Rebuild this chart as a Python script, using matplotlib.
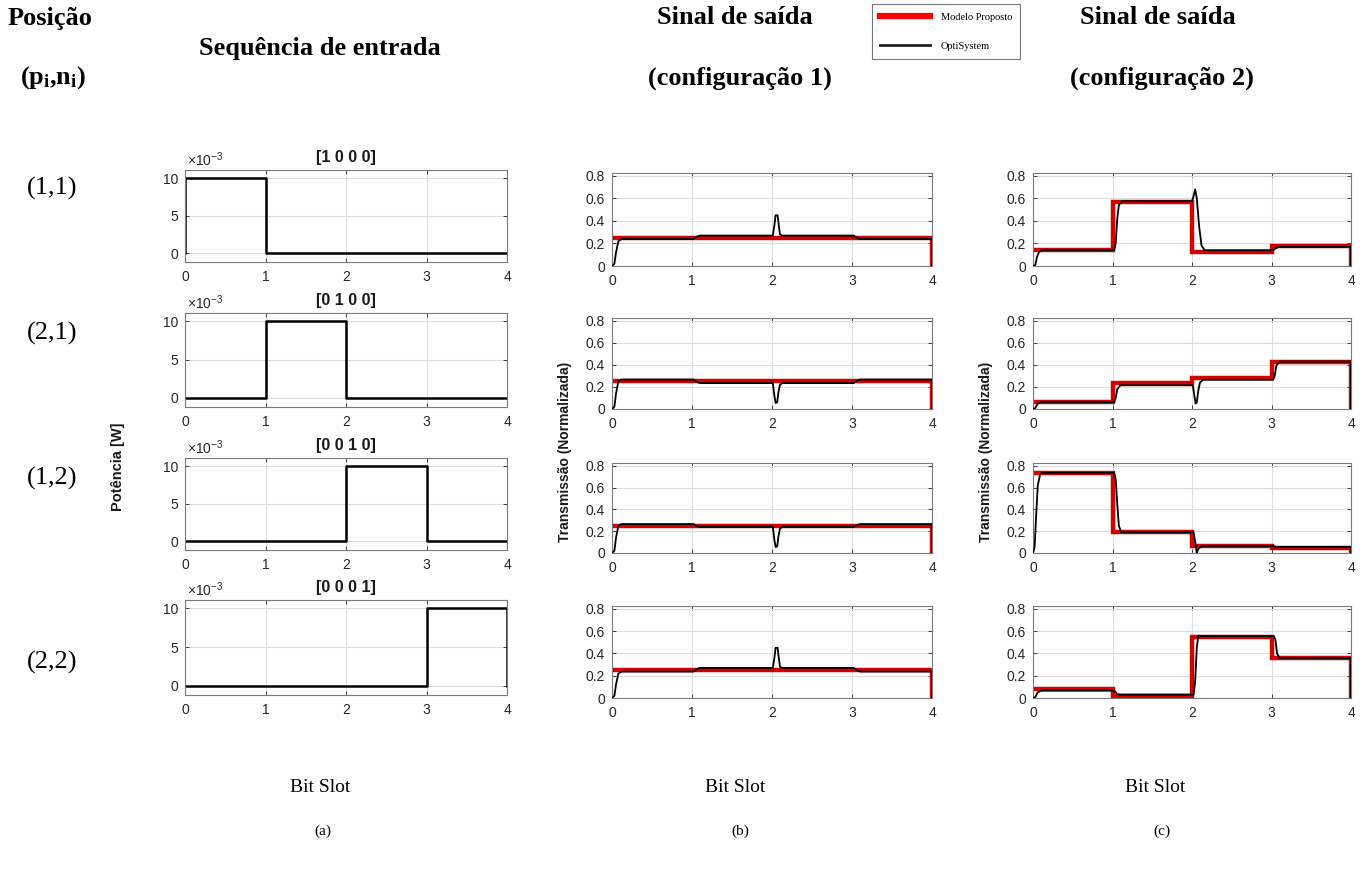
import matplotlib
matplotlib.use("Agg")
import matplotlib.pyplot as plt
from matplotlib.lines import Line2D
from matplotlib.ticker import FuncFormatter

plt.rcParams["font.family"] = ["Liberation Sans", "DejaVu Sans"]
plt.rcParams["mathtext.fontset"] = "custom"
plt.rcParams["mathtext.rm"] = "Liberation Sans"
plt.rcParams["mathtext.sf"] = "Liberation Sans"
plt.rcParams["mathtext.it"] = "Liberation Sans:italic"
plt.rcParams["mathtext.bf"] = "Liberation Serif:bold"

# ---- data ----
positions = ["(1,1)", "(2,1)", "(1,2)", "(2,2)"]
seq_titles = ["[1 0 0 0]", "[0 1 0 0]", "[0 0 1 0]", "[0 0 0 1]"]

# input power per bit slot [W]
input_power = [
    [10e-3, 0, 0, 0],
    [0, 10e-3, 0, 0],
    [0, 0, 10e-3, 0],
    [0, 0, 0, 10e-3],
]

# proposed model, normalized transmission per bit slot
model_cfg1 = [
    [0.25, 0.25, 0.25, 0.25],
    [0.25, 0.25, 0.25, 0.25],
    [0.25, 0.25, 0.25, 0.25],
    [0.25, 0.25, 0.25, 0.25],
]
model_cfg2 = [
    [0.14, 0.565, 0.12, 0.18],
    [0.062, 0.24, 0.277, 0.425],
    [0.73, 0.19, 0.065, 0.045],
    [0.08, 0.021, 0.545, 0.362],
]

# OptiSystem traces (bit slot, transmission)
opti_cfg1 = [
    [(0, 0), (0.03, 0.02), (0.05, 0.12), (0.08, 0.22), (0.12, 0.24), (1.02, 0.24),
     (1.06, 0.26), (1.1, 0.27), (2.01, 0.27), (2.03, 0.36), (2.045, 0.45), (2.07, 0.45),
     (2.085, 0.36), (2.1, 0.28), (2.13, 0.27), (3.02, 0.27), (3.06, 0.25), (3.1, 0.24),
     (4.0, 0.24), (4.0, 0)],
    [(0, 0), (0.03, 0.02), (0.05, 0.14), (0.08, 0.25), (0.12, 0.267), (1.02, 0.267),
     (1.06, 0.245), (1.1, 0.235), (2.01, 0.235), (2.03, 0.12), (2.045, 0.055), (2.065, 0.06),
     (2.08, 0.15), (2.1, 0.22), (2.13, 0.235), (3.02, 0.235), (3.06, 0.255), (3.1, 0.267),
     (4.0, 0.267), (4.0, 0)],
    [(0, 0), (0.03, 0.02), (0.05, 0.14), (0.08, 0.25), (0.12, 0.265), (1.02, 0.265),
     (1.06, 0.245), (1.1, 0.24), (2.01, 0.24), (2.03, 0.12), (2.045, 0.055), (2.065, 0.06),
     (2.08, 0.15), (2.1, 0.225), (2.13, 0.24), (3.02, 0.24), (3.06, 0.255), (3.1, 0.265),
     (4.0, 0.265), (4.0, 0)],
    [(0, 0), (0.03, 0.02), (0.05, 0.12), (0.08, 0.22), (0.12, 0.237), (1.02, 0.237),
     (1.06, 0.26), (1.1, 0.27), (2.01, 0.27), (2.03, 0.36), (2.045, 0.45), (2.07, 0.45),
     (2.085, 0.36), (2.1, 0.28), (2.13, 0.27), (3.02, 0.27), (3.06, 0.25), (3.1, 0.237),
     (4.0, 0.237), (4.0, 0)],
]
opti_cfg2 = [
    [(0, 0), (0.03, 0.01), (0.05, 0.08), (0.08, 0.13), (0.12, 0.14), (1.02, 0.14),
     (1.04, 0.2), (1.06, 0.42), (1.08, 0.54), (1.12, 0.575), (2.0, 0.575), (2.02, 0.62),
     (2.04, 0.68), (2.06, 0.6), (2.09, 0.35), (2.12, 0.18), (2.16, 0.14), (3.02, 0.14),
     (3.05, 0.155), (3.09, 0.17), (4.0, 0.17), (4.0, 0)],
    [(0, 0), (0.03, 0.01), (0.06, 0.05), (0.1, 0.062), (1.02, 0.062), (1.04, 0.1),
     (1.06, 0.18), (1.1, 0.215), (2.01, 0.215), (2.03, 0.12), (2.045, 0.05), (2.06, 0.06),
     (2.08, 0.17), (2.1, 0.24), (2.14, 0.265), (3.02, 0.265), (3.04, 0.3), (3.06, 0.39),
     (3.1, 0.43), (4.0, 0.43), (4.0, 0)],
    [(0, 0), (0.02, 0.05), (0.04, 0.35), (0.06, 0.62), (0.09, 0.72), (0.12, 0.735),
     (1.02, 0.735), (1.04, 0.68), (1.06, 0.45), (1.08, 0.25), (1.11, 0.19), (2.02, 0.19),
     (2.04, 0.1), (2.06, 0.0), (2.08, 0.04), (2.12, 0.063), (3.02, 0.063), (3.06, 0.056),
     (4.0, 0.056), (4.0, 0)],
    [(0, 0), (0.03, 0.01), (0.06, 0.05), (0.1, 0.066), (1.0, 0.066), (1.03, 0.06),
     (1.06, 0.035), (1.1, 0.03), (2.02, 0.03), (2.04, 0.15), (2.06, 0.45), (2.08, 0.56),
     (2.11, 0.555), (3.03, 0.555), (3.05, 0.52), (3.07, 0.4), (3.1, 0.36), (4.0, 0.356),
     (4.0, 0)],
]

slots = [0, 1, 2, 3, 4]

# ---- figure layout (pixel boxes) ----
W, H = 1368, 873
fig = plt.figure(figsize=(W / 100, H / 100), dpi=100, facecolor="white")


def fx(x):
    return x / W


def fy(y):
    return 1 - y / H


def place(x0, y0, x1, y1):
    return fig.add_axes([fx(x0), fy(y1), (x1 - x0) / W, (y1 - y0) / H])


def style(ax):
    ax.set_xlim(0, 4)
    ax.set_xticks(slots)
    ax.grid(True, color="#dcdcdc", lw=0.8)
    ax.set_axisbelow(True)
    ax.tick_params(direction="in", length=3, width=0.6, top=True, right=True,
                   labelsize=10, colors="#262626", pad=5)
    ax.tick_params(axis="x", pad=6)
    for s in ax.spines.values():
        s.set_color("#7a7a7a")
        s.set_linewidth(0.8)


def step_xy(levels):
    xs = [0]
    ys = [levels[0]]
    for i, v in enumerate(levels):
        xs += [slots[i], slots[i + 1]]
        ys += [v, v]
    xs.append(4)
    ys.append(0)
    return xs, ys


rows_a = [(170, 262), (313, 407), (458, 550), (600, 695)]
rows_bc = [(173, 266), (318, 409), (463, 553), (606, 698)]
cols = {"a": (185, 507), "b": (612, 932), "c": (1033, 1351)}
red = "#d40000"

for r in range(4):
    # input sequence
    x0, x1 = cols["a"]
    ax = place(x0, rows_a[r][0], x1, rows_a[r][1])
    px = [0] + [s for i in range(4) for s in (slots[i], slots[i + 1])] + [4]
    py = [0] + [v for p in input_power[r] for v in (p, p)] + [0]
    ax.plot(px, py, color="black", lw=1.8)
    ax.set_ylim(-1.2e-3, 11.1e-3)
    ax.set_yticks([0, 5e-3, 10e-3])
    ax.yaxis.set_major_formatter(FuncFormatter(lambda v, _: f"{v * 1e3:g}"))
    style(ax)
    ax.set_title(seq_titles[r], fontsize=11.5, fontweight="bold", pad=6,
                 color="#1a1a1a")
    ax.text(0.005, 1.015, r"$\times\mathsf{10^{-3}}$", transform=ax.transAxes,
            fontsize=10, color="#262626", ha="left", va="bottom")

    # output signals, configuration 1 and 2
    for key, model, opti in (("b", model_cfg1, opti_cfg1), ("c", model_cfg2, opti_cfg2)):
        x0, x1 = cols[key]
        ax = place(x0, rows_bc[r][0], x1, rows_bc[r][1])
        mx, my = step_xy(model[r])
        ax.plot(mx, my, color=red, lw=3.2, zorder=2, solid_joinstyle="miter")
        ox = [p[0] for p in opti[r]]
        oy = [p[1] for p in opti[r]]
        ax.plot(ox, oy, color="black", lw=1.3, zorder=3)
        ax.set_ylim(0, 0.825)
        ax.set_yticks([0, 0.2, 0.4, 0.6, 0.8])
        ax.yaxis.set_major_formatter(FuncFormatter(lambda v, _: f"{v:g}"))
        style(ax)

# axis labels
fig.text(fx(118), fy(467), "Potência [W]", rotation=90, ha="center", va="center",
         fontsize=10.5, fontweight="bold", color="#1a1a1a")
for xc in (565, 986):
    fig.text(fx(xc), fy(452), "Transmissão (Normalizada)", rotation=90, ha="center",
             va="center", fontsize=10, fontweight="bold", color="#1a1a1a")

# headers
serif = ["Liberation Serif", "DejaVu Serif"]
hdr = dict(fontsize=19, fontweight="bold", family=serif, va="center")
fig.text(fx(8), fy(18), "Posição", ha="left", **hdr)
fig.text(fx(20), fy(78), r"$\mathbf{(p_i{,}n_i)}$", ha="left", fontsize=19, va="center")
fig.text(fx(320), fy(48), "Sequência de entrada", ha="center", **hdr)
fig.text(fx(735), fy(18), "Sinal de saída", ha="center", **hdr)
fig.text(fx(740), fy(78), "(configuração 1)", ha="center", **hdr)
fig.text(fx(1158), fy(18), "Sinal de saída", ha="center", **hdr)
fig.text(fx(1162), fy(78), "(configuração 2)", ha="center", **hdr)

for lab, yc in zip(positions, (188, 333, 478, 662)):
    fig.text(fx(52), fy(yc), lab, ha="center", va="center", fontsize=19, family=serif)

for xc in (320, 735, 1155):
    fig.text(fx(xc), fy(788), "Bit Slot", ha="center", va="center", fontsize=14,
             family=serif)
for xc, lab in ((323, "(a)"), (740, "(b)"), (1162, "(c)")):
    fig.text(fx(xc), fy(831), lab, ha="center", va="center", fontsize=11, family=serif)

# legend
handles = [Line2D([], [], color="#ff0000", lw=4.5),
           Line2D([], [], color="#222222", lw=2)]
leg = fig.legend(handles, ["Modelo Proposto", "OptiSystem"], loc="upper left",
                 bbox_to_anchor=(fx(872), fy(4)), frameon=True, fancybox=False,
                 prop={"family": serif, "size": 7.5}, handlelength=4.8,
                 handletextpad=1.0, labelspacing=1.9, borderpad=0.8,
                 borderaxespad=0)
leg.get_frame().set_edgecolor("#555555")
leg.get_frame().set_linewidth(0.8)

fig.savefig("out.png", dpi=100, facecolor="white")
